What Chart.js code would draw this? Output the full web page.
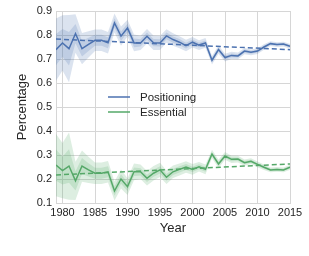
<!DOCTYPE html>
<html>
<head>
<meta charset="utf-8">
<script src="https://cdn.jsdelivr.net/npm/chart.js@4/dist/chart.umd.min.js"></script>
<style>
  html, body { margin: 0; padding: 0; background: #fff; }
</style>
</head>
<body>
<canvas id="chart" width="309" height="256"></canvas>
<script>
var years = [1979, 1980, 1981, 1982, 1983, 1984, 1985, 1986, 1987, 1988, 1989, 1990, 1991, 1992, 1993, 1994, 1995, 1996, 1997,
  1998, 1999, 2000, 2001, 2002, 2003, 2004, 2005, 2006, 2007, 2008, 2009, 2010, 2011, 2012, 2013, 2014, 2015];

var positioning = [0.739, 0.767, 0.743, 0.806, 0.743, 0.761, 0.778, 0.778, 0.768, 0.850, 0.795, 0.829, 0.767, 0.767, 0.795, 0.768, 0.767, 0.796, 0.781,
  0.770, 0.756, 0.770, 0.758, 0.767, 0.695, 0.739, 0.706, 0.715, 0.713, 0.733, 0.728, 0.733, 0.750, 0.764, 0.760, 0.762, 0.753];

var essential = [0.258, 0.235, 0.254, 0.192, 0.254, 0.238, 0.224, 0.224, 0.230, 0.150, 0.200, 0.168, 0.230, 0.230, 0.203, 0.224, 0.238, 0.207, 0.230,
  0.240, 0.250, 0.240, 0.251, 0.240, 0.304, 0.263, 0.296, 0.282, 0.283, 0.268, 0.274, 0.261, 0.249, 0.238, 0.240, 0.238, 0.249];

// half widths of the two shaded bands (same for both series)
var bandOuter = [0.13, 0.115, 0.14, 0.08, 0.065, 0.055, 0.045, 0.045, 0.045, 0.04, 0.04, 0.035, 0.035, 0.03, 0.03, 0.03, 0.03, 0.028, 0.026,
  0.025, 0.024, 0.022, 0.02, 0.02, 0.018, 0.017, 0.016, 0.015, 0.014, 0.013, 0.012, 0.012, 0.011, 0.01, 0.01, 0.01, 0.01];
var bandInner = [0.065, 0.058, 0.07, 0.04, 0.033, 0.028, 0.023, 0.023, 0.023, 0.02, 0.02, 0.018, 0.018, 0.015, 0.015, 0.015, 0.015, 0.014, 0.013,
  0.013, 0.012, 0.011, 0.01, 0.01, 0.009, 0.009, 0.008, 0.008, 0.007, 0.007, 0.006, 0.006, 0.006, 0.005, 0.005, 0.005, 0.005];

// dashed trend lines: value at first and last year
var trendYears = [1979, 2015];
var positioningTrend = [0.783, 0.739];
var essentialTrend = [0.217, 0.2625];

var xTicks = [1980, 1985, 1990, 1995, 2000, 2005, 2010, 2015];
var yTicks = [0.1, 0.2, 0.3, 0.4, 0.5, 0.6, 0.7, 0.8, 0.9];

var BLUE = '#4c72b0';
var GREEN = '#55a868';
var TEXT = '#262626';
var GRID = '#d6d6d6';

function pts(xs, ys) {
  return xs.map(function (x, i) { return { x: x, y: ys[i] }; });
}
function shifted(vals, half, sign) {
  return vals.map(function (v, i) { return v + sign * half[i]; });
}
function bandSets(vals, fillColor) {
  var base = { borderWidth: 0, pointRadius: 0, tension: 0, backgroundColor: fillColor };
  return [
    Object.assign({ data: pts(years, shifted(vals, bandOuter, 1)), fill: false }, base),
    Object.assign({ data: pts(years, shifted(vals, bandOuter, -1)), fill: '-1' }, base),
    Object.assign({ data: pts(years, shifted(vals, bandInner, 1)), fill: false }, base),
    Object.assign({ data: pts(years, shifted(vals, bandInner, -1)), fill: '-1' }, base)
  ];
}

var datasets = [
  { label: 'Positioning', data: pts(years, positioning), borderColor: BLUE, borderWidth: 1.5, pointRadius: 0, fill: false },
  { label: 'Essential', data: pts(years, essential), borderColor: GREEN, borderWidth: 1.5, pointRadius: 0, fill: false },
  { data: pts(trendYears, positioningTrend), borderColor: BLUE, borderWidth: 1.5, borderDash: [5, 3], pointRadius: 0, fill: false },
  { data: pts(trendYears, essentialTrend), borderColor: GREEN, borderWidth: 1.5, borderDash: [5, 3], pointRadius: 0, fill: false }
].concat(bandSets(positioning, 'rgba(76, 114, 176, 0.2)'), bandSets(essential, 'rgba(85, 168, 104, 0.2)'));

// legend drawn inside the plot, like the original
var innerLegend = {
  id: 'innerLegend',
  afterDraw: function (chart) {
    var ctx = chart.ctx;
    var items = [['Positioning', BLUE, 97], ['Essential', GREEN, 112]];
    ctx.save();
    ctx.font = '11.5px "Liberation Sans", Arial, sans-serif';
    ctx.textBaseline = 'middle';
    items.forEach(function (it) {
      ctx.strokeStyle = it[1];
      ctx.lineWidth = 1.5;
      ctx.beginPath();
      ctx.moveTo(108, it[2]);
      ctx.lineTo(130, it[2]);
      ctx.stroke();
      ctx.fillStyle = TEXT;
      ctx.fillText(it[0], 140, it[2] + 0.5);
    });
    ctx.restore();
  }
};

var tickFont = { family: '"Liberation Sans", Arial, sans-serif', size: 11 };
var titleFont = { family: '"Liberation Sans", Arial, sans-serif', size: 13 };

new Chart(document.getElementById('chart'), {
  type: 'line',
  data: { datasets: datasets },
  options: {
    responsive: false,
    animation: false,
    layout: { padding: { left: 12, right: 19, top: 11, bottom: 20 } },
    plugins: { legend: { display: false }, tooltip: { enabled: false } },
    scales: {
      x: {
        type: 'linear',
        min: 1979,
        max: 2015,
        afterBuildTicks: function (s) { s.ticks = xTicks.map(function (v) { return { value: v }; }); },
        afterFit: function (s) { s.height = 33; },
        grid: { color: GRID, drawTicks: false },
        border: { color: GRID },
        ticks: { color: TEXT, font: tickFont, padding: 3, maxRotation: 0, callback: function (v) { return String(v); } },
        title: { display: true, text: 'Year', color: TEXT, font: titleFont, padding: { top: 1, bottom: 0 } }
      },
      y: {
        min: 0.1,
        max: 0.9,
        afterBuildTicks: function (s) { s.ticks = yTicks.map(function (v) { return { value: v }; }); },
        afterFit: function (s) { s.width = 44; },
        grid: { color: GRID, drawTicks: false },
        border: { color: GRID },
        ticks: { color: TEXT, font: tickFont, padding: 4, callback: function (v) { return v.toFixed(1); } },
        title: { display: true, text: 'Percentage', color: TEXT, font: titleFont, padding: { top: 3, bottom: 0 } }
      }
    }
  },
  plugins: [innerLegend]
});
</script>
</body>
</html>
